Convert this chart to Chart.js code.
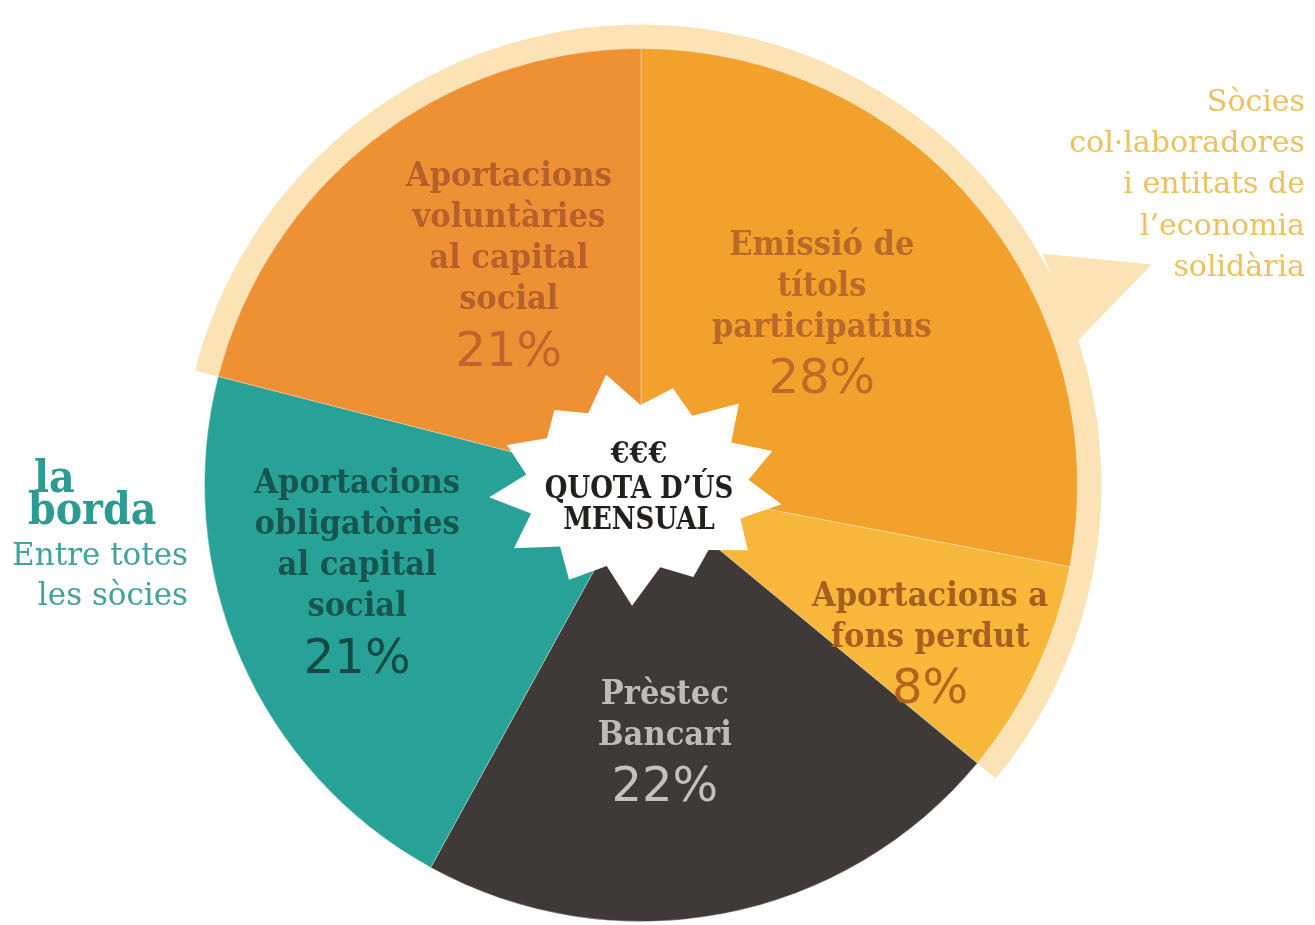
<!DOCTYPE html>
<html>
<head>
<meta charset="utf-8">
<script src="https://cdn.jsdelivr.net/npm/chart.js@4.4.1/dist/chart.umd.min.js"></script>
<style>
  html, body { margin: 0; padding: 0; background: #fff; }
</style>
</head>
<body>
<canvas id="pie" width="1315" height="925"></canvas>
<script>
// data, clockwise from the top
const categories = [
  'Emissió de títols participatius',
  'Aportacions a fons perdut',
  'Prèstec Bancari',
  'Aportacions obligatòries al capital social',
  'Aportacions voluntàries al capital social'
];
const shares = [28, 8, 22, 21, 21];
const sliceLines = [
  ['Emissió de', 'títols', 'participatius'],
  ['Aportacions a', 'fons perdut'],
  ['Prèstec', 'Bancari'],
  ['Aportacions', 'obligatòries', 'al capital', 'social'],
  ['Aportacions', 'voluntàries', 'al capital', 'social']
];
const pctLabels = shares.map(v => v + '%');
// slices funded by partner members (the cream band)
const partnerSlices = [4, 0, 1];
const partnerText = ['Sòcies', 'col·laboradores', 'i entitats de', 'l\u2019economia', 'solidària'];
const memberText = ['Entre totes', 'les sòcies'];
const centerText = ['€€€', 'QUOTA D\u2019ÚS', 'MENSUAL'];

// styles
const sliceColors = ['#F1A12C', '#F6B73B', '#3F3A38', '#28A196', '#EE9134'];
const textColors = ['#B9692A', '#A65F1E', '#BEBCBA', '#17564F', '#B7602B'];
const pctColors = ['#C06A28', '#B2651F', '#C4C2C0', '#144A44', '#C0652E'];
const ringColor = '#FBE3B5';
// label placement: angle shift (deg) and distance as part of the radius
const labelShift = [-4, 3.5, 5.5, 6.4, 6.8];
const labelDist = [0.572, 0.755, 0.59, 0.68, 0.588];

function drawLine(ctx, text, x, y, font, color, sx, align, base) {
  ctx.save();
  ctx.font = font;
  ctx.fillStyle = color;
  ctx.textAlign = align || 'center';
  ctx.textBaseline = base || 'middle';
  ctx.translate(x, y);
  ctx.scale(sx, 1);
  ctx.fillText(text, 0, 0);
  ctx.restore();
}

const decor = {
  id: 'decor',
  beforeDatasetsDraw(chart) {
    const ctx = chart.ctx;
    const arcs = chart.getDatasetMeta(0).data;
    const cx = arcs[0].x, cy = arcs[0].y, R = arcs[0].outerRadius;
    const start = arcs[partnerSlices[0]].startAngle;
    const end = arcs[partnerSlices[partnerSlices.length - 1]].endAngle + 2 * Math.PI;
    ctx.save();
    ctx.fillStyle = ringColor;
    ctx.beginPath();
    ctx.moveTo(cx, cy);
    ctx.arc(cx, cy, R + 24, start, end);
    ctx.closePath();
    ctx.fill();
    // callout pointing at the partner text
    ctx.beginPath();
    ctx.moveTo(cx + 0.92 * R, cy - 0.53 * R);
    ctx.lineTo(cx + 1.17 * R, cy - 0.505 * R);
    ctx.lineTo(cx + 1.0 * R, cy - 0.33 * R);
    ctx.closePath();
    ctx.fill();
    ctx.restore();
  },
  afterDatasetsDraw(chart) {
    const ctx = chart.ctx;
    const arcs = chart.getDatasetMeta(0).data;
    const cx = arcs[0].x, cy = arcs[0].y, R = arcs[0].outerRadius;

    // slice labels
    arcs.forEach((arc, i) => {
      const mid = (arc.startAngle + arc.endAngle) / 2 + labelShift[i] * Math.PI / 180;
      const lx = cx + Math.cos(mid) * R * labelDist[i];
      const ly = cy + Math.sin(mid) * R * labelDist[i];
      const lines = sliceLines[i];
      const total = (lines.length - 1) * 41 + 52;
      const top = ly - total / 2;
      lines.forEach((t, k) => {
        drawLine(ctx, t, lx, top + k * 41, 'bold 34px "DejaVu Serif"', textColors[i], 0.9);
      });
      drawLine(ctx, pctLabels[i], lx, top + (lines.length - 1) * 41 + 53, '48px "DejaVu Sans"', pctColors[i], 1);
    });

    // starburst in the middle
    const sx = cx - 4, sy = cy + 2;
    const tips = [1.4, 1.25, 1.4, 1.35, 1.38, 1.3, 1.22, 1.45, 1.3, 1.38, 1.4, 1.33, 1.22];
    const n = tips.length;
    const a0 = -102 * Math.PI / 180;
    ctx.save();
    ctx.fillStyle = '#ffffff';
    ctx.beginPath();
    for (let k = 0; k < n; k++) {
      const a = a0 + k * 2 * Math.PI / n;
      const b = a + Math.PI / n;
      const px = sx + Math.cos(a) * tips[k] * 106, py = sy + Math.sin(a) * tips[k] * 82;
      const qx = sx + Math.cos(b) * 112, qy = sy + Math.sin(b) * 82;
      if (k === 0) ctx.moveTo(px, py); else ctx.lineTo(px, py);
      ctx.lineTo(qx, qy);
    }
    ctx.closePath();
    ctx.fill();
    ctx.restore();
    drawLine(ctx, centerText[0], sx + 2, cy - 30, 'bold 30px "DejaVu Serif"', '#231F1C', 0.9);
    drawLine(ctx, centerText[1], sx + 2, cy + 5, '600 31px "DejaVu Serif"', '#231F1C', 0.84);
    drawLine(ctx, centerText[2], sx + 2, cy + 36, '600 31px "DejaVu Serif"', '#231F1C', 0.84);

    // partner members, top right
    partnerText.forEach((t, k) => {
      drawLine(ctx, t, 1305, 103 + k * 41.3, '30px "DejaVu Serif"', '#ECC160', 1.0, 'right');
    });

    // la borda, left
    drawLine(ctx, 'la', 34, 492, 'bold 44px "DejaVu Serif"', '#2E9B92', 0.9, 'left', 'alphabetic');
    drawLine(ctx, 'borda', 28, 524, 'bold 44px "DejaVu Serif"', '#2E9B92', 0.9, 'left', 'alphabetic');
    memberText.forEach((t, k) => {
      drawLine(ctx, t, 188, 557 + k * 40, '31px "DejaVu Serif"', '#42A39A', 1.0, 'right');
    });
  }
};

new Chart(document.getElementById('pie'), {
  type: 'pie',
  data: {
    labels: categories,
    datasets: [{
      data: shares,
      backgroundColor: sliceColors,
      borderColor: 'rgba(255,255,255,0.3)',
      borderWidth: 1
    }]
  },
  options: {
    responsive: false,
    animation: false,
    layout: { padding: { left: 100, right: 133, top: 48, bottom: 3 } },
    plugins: {
      legend: { display: false },
      tooltip: { enabled: false }
    }
  },
  plugins: [decor]
});
</script>
</body>
</html>
